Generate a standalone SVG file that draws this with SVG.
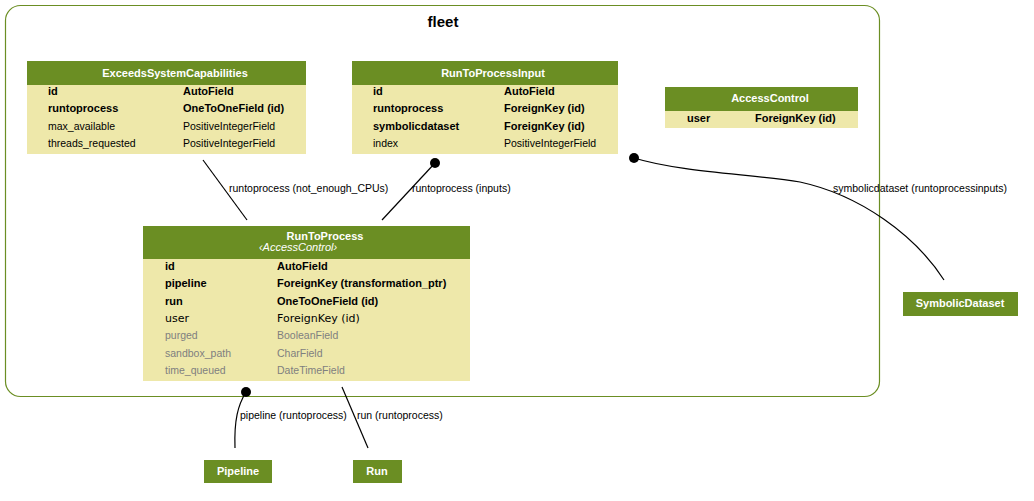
<svg xmlns="http://www.w3.org/2000/svg" width="1034" height="501" viewBox="0 0 1034 501">
<style>
.hd{fill:#6b8e23}
.bd{fill:#eee8aa}
.ht{font-family:"Liberation Sans",Arial,sans-serif;font-size:11px;font-weight:bold;fill:#fff;text-anchor:middle}
.hi{font-family:"Liberation Sans",Arial,sans-serif;font-size:11px;font-style:italic;fill:#fff;text-anchor:middle}
.b{font-family:"Liberation Sans",Arial,sans-serif;font-size:11px;font-weight:bold;fill:#000}
.r{font-family:"Liberation Sans",Arial,sans-serif;font-size:10.5px;fill:#000}
.g{font-family:"Liberation Sans",Arial,sans-serif;font-size:10.5px;fill:#7f7f7f}
.d{font-family:"DejaVu Sans",sans-serif;font-size:11px;fill:#000}
.lb{font-family:"Liberation Sans",Arial,sans-serif;font-size:10.5px;fill:#000}
.e{fill:none;stroke:#000;stroke-width:1.2}
.dot{fill:#000}
</style>
<rect width="1034" height="501" fill="#fff"/>
<g id="cluster_fleet">
<rect x="5.5" y="5.5" width="874" height="391" rx="15" fill="none" stroke="#6b8e23" stroke-width="1.2"/>
<text x="443" y="27" font-family="Liberation Sans,Arial,sans-serif" font-size="15" font-weight="bold" text-anchor="middle">fleet</text>
</g>
<g id="ExceedsSystemCapabilities">
<rect class="bd" x="27" y="61" width="279" height="93"/>
<rect class="hd" x="27" y="61" width="279" height="24"/>
<text class="ht" x="175" y="77">ExceedsSystemCapabilities</text>
<text class="b" x="48" y="95">id</text><text class="b" x="183" y="95">AutoField</text>
<text class="b" x="48" y="112">runtoprocess</text><text class="b" x="183" y="112">OneToOneField (id)</text>
<text class="r" x="48" y="130">max_available</text><text class="r" x="183" y="130">PositiveIntegerField</text>
<text class="r" x="48" y="147">threads_requested</text><text class="r" x="183" y="147">PositiveIntegerField</text>
</g>
<g id="RunToProcessInput">
<rect class="bd" x="352" y="61" width="266" height="93"/>
<rect class="hd" x="352" y="61" width="266" height="24"/>
<text class="ht" x="493" y="77">RunToProcessInput</text>
<text class="b" x="373" y="95">id</text><text class="b" x="504" y="95">AutoField</text>
<text class="b" x="373" y="112">runtoprocess</text><text class="b" x="504" y="112">ForeignKey (id)</text>
<text class="b" x="373" y="130">symbolicdataset</text><text class="b" x="504" y="130">ForeignKey (id)</text>
<text class="r" x="373" y="147">index</text><text class="r" x="504" y="147">PositiveIntegerField</text>
</g>
<g id="AccessControl">
<rect class="bd" x="665" y="87" width="193" height="41"/>
<rect class="hd" x="665" y="87" width="193" height="24"/>
<text class="ht" x="770" y="102">AccessControl</text>
<text class="b" x="687" y="122">user</text><text class="b" x="755" y="122">ForeignKey (id)</text>
</g>
<g id="RunToProcess">
<rect class="bd" x="143" y="226" width="327" height="155"/>
<rect class="hd" x="143" y="226" width="327" height="33"/>
<text class="ht" x="325" y="240">RunToProcess</text>
<text class="hi" x="298" y="251">‹AccessControl›</text>
<text class="b" x="165" y="270">id</text><text class="b" x="277" y="270">AutoField</text>
<text class="b" x="165" y="287">pipeline</text><text class="b" x="277" y="287">ForeignKey (transformation_ptr)</text>
<text class="b" x="165" y="305">run</text><text class="b" x="277" y="305">OneToOneField (id)</text>
<text class="d" x="165" y="322">user</text><text class="d" x="277" y="322">ForeignKey (id)</text>
<text class="g" x="165" y="339">purged</text><text class="g" x="277" y="339">BooleanField</text>
<text class="g" x="165" y="357">sandbox_path</text><text class="g" x="277" y="357">CharField</text>
<text class="g" x="165" y="374">time_queued</text><text class="g" x="277" y="374">DateTimeField</text>
</g>
<g id="SymbolicDataset">
<rect class="hd" x="903" y="292" width="115" height="24"/>
<text class="ht" x="960" y="307">SymbolicDataset</text>
</g>
<g id="Pipeline">
<rect class="hd" x="204" y="460" width="68" height="23"/>
<text class="ht" x="238" y="475">Pipeline</text>
</g>
<g id="Run">
<rect class="hd" x="353" y="460" width="49" height="23"/>
<text class="ht" x="377" y="475">Run</text>
</g>
<g id="edges">
<path class="e" d="M203,160 L247,220"/>
<text class="lb" x="229" y="192">runtoprocess (not_enough_CPUs)</text>
<path class="e" d="M435,163 L382,220"/>
<circle class="dot" cx="435" cy="163" r="5"/>
<text class="lb" x="412" y="192">runtoprocess (inputs)</text>
<path class="e" d="M634,158 C680,172 750,174 800,182 C860,195 915,235 944,280"/>
<circle class="dot" cx="634" cy="158" r="5"/>
<text class="lb" x="833" y="192">symbolicdataset (runtoprocessinputs)</text>
<path class="e" d="M246,392 C238,405 234,420 235,448"/>
<circle class="dot" cx="246" cy="392" r="5"/>
<text class="lb" x="240" y="419">pipeline (runtoprocess)</text>
<path class="e" d="M342,387 L368,448"/>
<text class="lb" x="357" y="419">run (runtoprocess)</text>
</g>
</svg>
